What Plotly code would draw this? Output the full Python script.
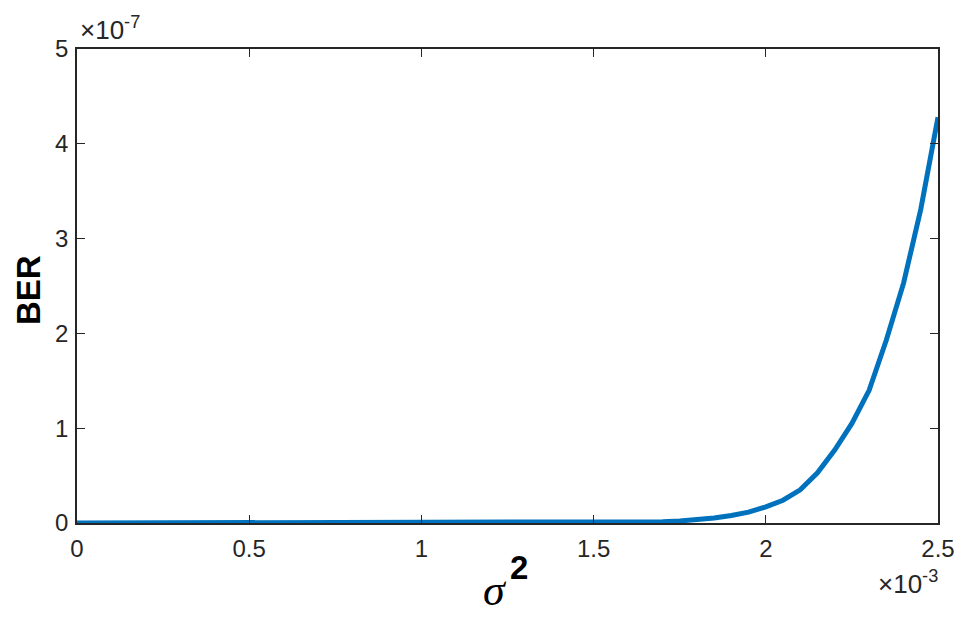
import plotly.graph_objects as go

# sigma^2 values (variance), step 0.05e-3 from 0 to 2.5e-3
sigma2 = [i * 0.05e-3 for i in range(51)]
# BER values in units of 1e-7
ber_e7 = [0.0, 0.0, 0.0, 0.0, 0.0, 0.0, 0.0, 0.0, 0.0, 0.0,       # 0.00 - 0.45
          0.0, 0.0, 0.0, 0.0, 0.0, 0.0, 0.0, 0.0, 0.0, 0.0,       # 0.50 - 0.95
          0.0, 0.0, 0.0, 0.0, 0.0, 0.0, 0.00005, 0.0001, 0.0002, 0.0005,  # 1.00 - 1.45
          0.001, 0.002, 0.004, 0.0075, 0.013, 0.021, 0.034, 0.053, 0.08, 0.115,  # 1.50 - 1.95
          0.17, 0.24, 0.35, 0.53, 0.77, 1.05, 1.40, 1.93, 2.53, 3.31,  # 2.00 - 2.45
          4.28]                                                   # 2.50
ber = [v * 1e-7 for v in ber_e7]

xtick_vals = [0, 0.5e-3, 1.0e-3, 1.5e-3, 2.0e-3, 2.5e-3]
xtick_text = ["0", "0.5", "1", "1.5", "2", "2.5"]
ytick_vals = [0, 1e-7, 2e-7, 3e-7, 4e-7, 5e-7]
ytick_text = ["0", "1", "2", "3", "4", "5"]

OFF = 8  # page body margin
W, H = 968 - OFF, 623 - OFF
L, R, T, B = 77 - OFF, 30, 49 - OFF, 100
pw, ph = W - L - R, H - T - B

def px(x):
    return (x - OFF - L) / pw

def py(y):
    return (H + OFF - B - y) / ph

axcol = "#262626"
fig = go.Figure()
fig.add_trace(go.Scatter(x=sigma2, y=ber, mode="lines",
                         line=dict(color="#0072BD", width=5)))

fig.update_layout(
    width=W, height=H,
    margin=dict(l=L, r=R, t=T, b=B),
    plot_bgcolor="white", paper_bgcolor="white",
    showlegend=False,
    font=dict(family="Liberation Sans, Arial, sans-serif", size=24, color=axcol),
)
fig.update_xaxes(range=[0, 2.5e-3], tickvals=xtick_vals, ticktext=xtick_text,
                 tickfont=dict(size=24, color=axcol),
                 showgrid=False, zeroline=False, showline=True, linecolor=axcol,
                 linewidth=1.5, mirror="ticks", ticks="inside", ticklen=8,
                 tickcolor=axcol, tickwidth=1.2, ticklabelstandoff=3)
fig.update_yaxes(range=[0, 5e-7], tickvals=ytick_vals, ticktext=ytick_text,
                 tickfont=dict(size=24, color=axcol),
                 showgrid=False, zeroline=False, showline=True, linecolor=axcol,
                 linewidth=1.5, mirror="ticks", ticks="inside", ticklen=8,
                 tickcolor=axcol, tickwidth=1.2, ticklabelstandoff=2)

ann = [
    dict(text="<b>BER</b>", x=px(28), y=py(290), textangle=-90,
         font=dict(size=33, color="#000000")),
    dict(text="<i>σ</i>", x=px(495), y=py(590),
         font=dict(family="Liberation Serif, Times New Roman, serif", size=44, color="#000000")),
    dict(text="<b>2</b>", x=px(519), y=py(567),
         font=dict(size=33, color="#000000")),
    dict(text="×10<sup>-7</sup>", x=px(78), y=py(47), xanchor="left", yanchor="bottom",
         font=dict(size=26, color=axcol)),
    dict(text="×10<sup>-3</sup>", x=px(940), y=py(601), xanchor="right", yanchor="bottom",
         font=dict(size=26, color=axcol)),
]
for a in ann:
    a.setdefault("xanchor", "center")
    a.setdefault("yanchor", "middle")
    fig.add_annotation(xref="paper", yref="paper", showarrow=False, **a)

fig.write_html("out.html")
